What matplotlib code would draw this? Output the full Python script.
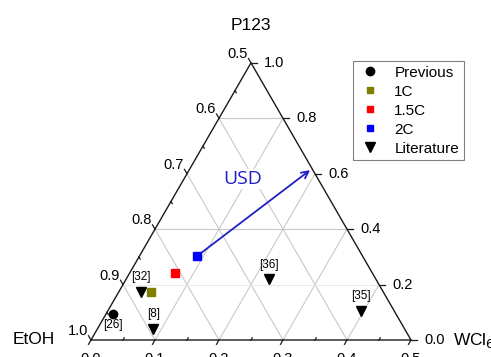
import numpy as np
import matplotlib
matplotlib.use("Agg")
import matplotlib.pyplot as plt
from matplotlib.lines import Line2D

plt.rcParams['font.family'] = ['Liberation Sans', 'DejaVu Sans']

# compositions read on the WCl6 (0-0.5) and P123 (0-1.0) scales
prev_wcl6 = [0.011]
prev_p123 = [0.095]
c1_wcl6 = [0.051]
c1_p123 = [0.172]
c15_wcl6 = [0.071]
c15_p123 = [0.243]
c2_wcl6 = [0.090]
c2_p123 = [0.303]
usd_end_wcl6 = 0.189
usd_end_p123 = 0.613
lit_refs = ['[32]', '[8]', '[36]', '[35]']
lit_wcl6 = [0.035, 0.087, 0.223, 0.396]
lit_p123 = [0.173, 0.041, 0.219, 0.106]

bottom_ticks = [0.0, 0.1, 0.2, 0.3, 0.4, 0.5]
left_ticks = [0.5, 0.6, 0.7, 0.8, 0.9, 1.0]
right_ticks = [0.0, 0.2, 0.4, 0.6, 0.8, 1.0]

H = np.sqrt(3) / 2
PX = 1 / 320.0  # one pixel in triangle units


def tern(w, p):
    # w: WCl6 on 0-0.5 scale, p: P123 on 0-1 scale
    w = np.asarray(w) / 0.5
    p = np.asarray(p)
    return w + p / 2, p * H


def frac(w, p):
    # normalised fractions -> cartesian
    return w + p / 2, p * H


fig = plt.figure(figsize=(4.91, 3.57), dpi=100)
ax = fig.add_axes([0, 0, 1, 1])
ax.set_xlim(-91 * PX, 400 * PX)
ax.set_ylim(-17 * PX, 340 * PX)
ax.axis('off')

grid_kw = dict(color='#c8c8c8', lw=0.8, zorder=1)
for g in [0.2, 0.4, 0.6, 0.8]:
    # constant WCl6
    x, y = frac(np.array([g, g]), np.array([0, 1 - g]))
    ax.plot(x, y, **grid_kw)
    # constant EtOH
    x, y = frac(np.array([1 - g, 0]), np.array([0, 1 - g]))
    ax.plot(x, y, **grid_kw)
for g in [0.4, 0.8]:
    x, y = frac(np.array([0, 1 - g]), np.array([g, g]))
    ax.plot(x, y, **grid_kw)
x, y = frac(np.array([0, 0.8]), np.array([0.2, 0.2]))
ax.plot(x, y, color='#ebebeb', lw=0.8, zorder=1)

# triangle frame
ax.plot([0, 1, 0.5, 0], [0, 0, H, 0], color='#1a1a1a', lw=1.0, zorder=3)

tick_kw = dict(color='#1a1a1a', lw=0.9, zorder=3)
maj = 5 * PX
mnr = 2.5 * PX
# bottom axis: ticks point down-left
d = np.array([-0.5, -H])
for i, t in enumerate(bottom_ticks):
    bx = t / 0.5
    ax.plot([bx, bx + d[0] * maj], [0, d[1] * maj], **tick_kw)
    ax.text(bx, -12 * PX, f'{t:.1f}', ha='center', va='top', fontsize=10.5)
    if i < len(bottom_ticks) - 1:
        mx = bx + 0.1
        ax.plot([mx, mx - d[0] * mnr], [0, -d[1] * mnr], **tick_kw)
# left axis: ticks point up-left
d = np.array([-0.5, H])
for i, t in enumerate(left_ticks):
    p = 1 - (t - 0.5) / 0.5
    lx, ly = frac(0, p)
    ax.plot([lx, lx + d[0] * maj], [ly, ly + d[1] * maj], **tick_kw)
    ax.text(lx - 3 * PX, ly + 9 * PX, f'{t:.1f}', ha='right', va='center',
            fontsize=10.5)
    if i < len(left_ticks) - 1:
        mx, my = frac(0, p - 0.1)
        ax.plot([mx, mx - d[0] * mnr], [my, my - d[1] * mnr], **tick_kw)
# right axis: ticks point right
for t in right_ticks:
    rx, ry = frac(1 - t, t)
    ax.plot([rx, rx + maj * 1.1], [ry, ry], **tick_kw)
    ax.text(rx + 13 * PX, ry, f'{t:.1f}', ha='left', va='center',
            fontsize=10.5)

# corner titles
ax.text(0.5, 315 * PX, 'P123', ha='center', va='center', fontsize=12.5)
ax.text(-57 * PX, 0, 'EtOH', ha='center', va='center', fontsize=12.5)
ax.text(362 * PX, 0, 'WCl$_6$', ha='left', va='center', fontsize=12.5)

# USD arrow
sx, sy = tern(c2_wcl6[0], c2_p123[0])
ex, ey = tern(usd_end_wcl6, usd_end_p123)
ax.annotate('', xy=(ex, ey), xytext=(sx, sy),
            arrowprops=dict(arrowstyle='->,head_length=0.5,head_width=0.25',
                            color='#1f1fc8', lw=1.3, shrinkA=0, shrinkB=0),
            zorder=4)
ax.text(152 * PX, 161 * PX, 'USD', ha='center', va='center', fontsize=14,
        family=['Open Sans', 'DejaVu Sans'], color='#1f1fc8', zorder=2,
        bbox=dict(facecolor='white', edgecolor='none', pad=1))

x, y = tern(prev_wcl6, prev_p123)
ax.plot(x, y, 'o', color='black', ms=6, zorder=5)
ax.annotate('[26]', (x[0], y[0]), xytext=(0, -8), textcoords='offset points',
            ha='center', va='center', fontsize=8.5)
x, y = tern(c1_wcl6, c1_p123)
ax.plot(x, y, 's', color='#808000', ms=5.5, zorder=5)
x, y = tern(c15_wcl6, c15_p123)
ax.plot(x, y, 's', color='#ff0000', ms=5.5, zorder=5)
x, y = tern(c2_wcl6, c2_p123)
ax.plot(x, y, 's', color='#0000ff', ms=5.5, zorder=5)
x, y = tern(lit_wcl6, lit_p123)
ax.plot(x, y, 'v', color='black', ms=7.5, zorder=5)
for ref, xi, yi in zip(lit_refs, x, y):
    ax.annotate(ref, (xi, yi), xytext=(0, 10.5), textcoords='offset points',
                ha='center', va='center', fontsize=8.5)

handles = [
    Line2D([], [], ls='none', marker='o', color='black', ms=6),
    Line2D([], [], ls='none', marker='s', color='#808000', ms=4.5),
    Line2D([], [], ls='none', marker='s', color='#ff0000', ms=4.5),
    Line2D([], [], ls='none', marker='s', color='#0000ff', ms=4.5),
    Line2D([], [], ls='none', marker='v', color='black', ms=7),
]
labels = ['Previous', '1C', '1.5C', '2C', 'Literature']
leg = fig.legend(handles, labels, loc='upper left',
                 bbox_to_anchor=(353 / 491, 1 - 61 / 357), borderaxespad=0,
                 fontsize=11, frameon=True, fancybox=False, framealpha=1,
                 edgecolor='#808080', handlelength=1.6, handletextpad=0.8,
                 labelspacing=0.33, borderpad=0.3)
leg.get_frame().set_linewidth(0.8)

fig.savefig('out.png', dpi=100)
